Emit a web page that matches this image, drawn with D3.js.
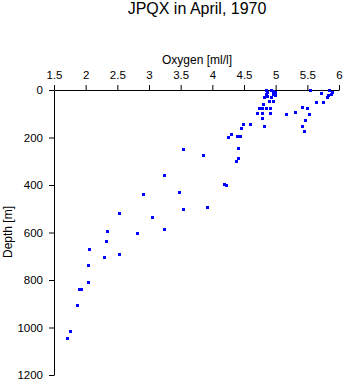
<!DOCTYPE html>
<html>
<head>
<meta charset="utf-8">
<script src="https://cdn.jsdelivr.net/npm/d3@7"></script>
<style>
html,body{margin:0;padding:0;background:#fff;}
svg{display:block;font-family:"Liberation Sans",Arial,Helvetica,sans-serif;}
</style>
</head>
<body>
<svg id="chart" width="345" height="384"></svg>
<script>
const title = "JPQX in April, 1970";
const xLabel = "Oxygen [ml/l]";
const yLabel = "Depth [m]";
const xTicks = [1.5, 2, 2.5, 3, 3.5, 4, 4.5, 5, 5.5, 6];
const yTicks = [0, 200, 400, 600, 800, 1000, 1200];

const oxygen = [
  4.85, 4.87, 4.85, 4.87, 4.93, 4.96, 4.99, 4.95, 4.99, 4.93,
  4.82, 4.90, 4.95, 4.80, 4.73, 4.79, 4.85, 4.91, 4.71, 4.78,
  4.91, 4.79, 4.81, 5.16, 5.31, 5.41, 5.49, 5.53, 5.46, 5.42,
  5.44, 5.54, 5.63, 5.715, 5.74, 5.84, 5.87, 5.81, 5.83, 5.89,
  4.48, 4.60, 4.46, 4.30, 4.24, 4.39, 4.44, 4.40, 4.40, 4.38,
  3.53, 3.86, 3.23, 4.19, 4.21, 2.90, 3.48, 3.54, 3.92, 2.53,
  3.05, 3.23, 2.81, 2.34, 2.32, 2.06, 2.29, 2.53, 2.03, 2.03,
  1.90, 1.93, 1.87, 1.76, 1.71
];
const depth = [
  2, 7, 16, 24, 0, 3, 7, 16, 20, 28,
  30, 47, 45, 59, 77, 75, 75, 75, 97, 97,
  97, 118, 152, 101, 93, 72, 76, 101, 126, 152,
  173, 1, 49, 13, 52, 1, 17, 30, 20, 9,
  143, 143, 159, 185, 198, 194, 194, 244, 287, 301,
  249, 274, 358, 397, 401, 438, 430, 501, 491, 516,
  535, 587, 603, 594, 636, 670, 704, 690, 737, 809,
  836, 836, 905, 1016, 1043
];

const svg = d3.select("#chart");
const mLeft = 54, mTop = 90, mRight = 339, mBottom = 375;

const x = d3.scaleLinear().domain([1.5, 6]).range([mLeft, mRight]);
const y = d3.scaleLinear().domain([0, 1200]).range([mTop, mBottom]);

svg.append("text")
  .attr("x", 197).attr("y", 14)
  .attr("text-anchor", "middle")
  .attr("font-size", 16)
  .text(title);

svg.append("text")
  .attr("x", 197).attr("y", 64)
  .attr("text-anchor", "middle")
  .attr("font-size", 12)
  .text(xLabel);

svg.append("text")
  .attr("transform", "translate(12,232) rotate(-90)")
  .attr("text-anchor", "middle")
  .attr("font-size", 12)
  .text(yLabel);

const xAxis = svg.append("g")
  .attr("transform", `translate(0,${mTop})`)
  .call(d3.axisTop(x).tickValues(xTicks).tickSize(5).tickSizeOuter(0).tickPadding(6).tickFormat(d3.format("~g")));

const yAxis = svg.append("g")
  .attr("transform", `translate(${mLeft},0)`)
  .call(d3.axisLeft(y).tickValues(yTicks).tickSize(5).tickSizeOuter(0).tickPadding(6).tickFormat(d3.format("d")));

[xAxis, yAxis].forEach(g => {
  g.attr("font-family", null).attr("font-size", 11.5);
  g.selectAll("text").attr("fill", "#000");
  g.selectAll("line,path").attr("stroke", "#000");
});

const pts = oxygen.map((v, i) => ({v, d: depth[i]}));
svg.append("g").selectAll("rect")
  .data(pts)
  .join("rect")
  .attr("x", p => Math.round(x(p.v)) - 1)
  .attr("y", p => Math.round(y(p.d)) - 1)
  .attr("width", 3)
  .attr("height", 3)
  .attr("fill", "#0000ff");
</script>
</body>
</html>
